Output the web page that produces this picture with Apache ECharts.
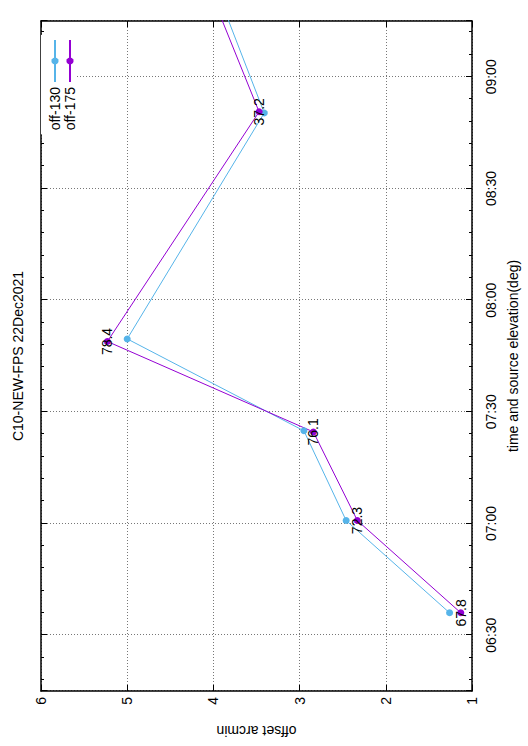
<!DOCTYPE html>
<html>
<head>
<meta charset="utf-8">
<script src="https://cdn.jsdelivr.net/npm/echarts@6/dist/echarts.min.js"></script>
<style>
  html, body { margin: 0; padding: 0; background: #fff; overflow: hidden; }
  /* the chart is laid out landscape and turned a quarter turn to portrait */
  #chart {
    position: absolute; left: 0; top: 0;
    width: 746px; height: 528px;
    transform-origin: 0 0;
    transform: translate(0px, 746px) rotate(-90deg);
  }
</style>
</head>
<body>
<div id="chart"></div>
<script>
// pointing offsets through the night, two focal-plane positions
const times130   = ['06:36:00', '07:00:48', '07:24:54', '07:49:36', '08:50:18', '09:25:00'];
const offset130  = [1.26, 2.46, 2.95, 5.00, 3.41, 3.99];
const times175   = ['06:36:00', '07:00:48', '07:24:36', '07:48:54', '08:50:36', '09:25:00'];
const offset175  = [1.13, 2.33, 2.84, 5.23, 3.47, 4.07];
const elevation175 = [67.8, 72.3, 76.1, 78.4, 37.2, null];

const seriesNames = ['off-130', 'off-175'];
const timeRange = ['06:15', '09:15'];
const offsetRange = [1, 6];

const FONT = 'Liberation Sans, Arial, Helvetica, sans-serif';

function toMinutes(s) {
  const p = s.split(':').map(Number);
  return p[0] * 60 + p[1] + (p[2] || 0) / 60;
}
function pad(n) { return (n < 10 ? '0' : '') + n; }
function clock(v) {
  if (Math.abs(v % 30) > 1e-6) return '';
  const h = Math.floor(v / 60), m = Math.round(v - h * 60);
  return pad(h) + ':' + pad(m);
}

const data130 = times130.map((t, i) => [toMinutes(t), offset130[i]]);
const data175 = times175.map((t, i) => [toMinutes(t), offset175[i], elevation175[i]]);

const tMin = toMinutes(timeRange[0]), tMax = toMinutes(timeRange[1]);

const frame = { show: true, onZero: false, lineStyle: { color: '#000', width: 1.5 } };
const ticks = { show: true, inside: true, length: 6, lineStyle: { color: '#000', width: 1 } };
const grid = { show: true, lineStyle: { color: '#777', width: 1, type: [1, 2] } };
const minor = { show: true, splitNumber: 5, length: 3, lineStyle: { color: '#000', width: 1 } };

const chart = echarts.init(document.getElementById('chart'), null, { renderer: 'svg' });
chart.setOption({
  animation: false,
  backgroundColor: '#fff',
  textStyle: { fontFamily: FONT },
  title: {
    text: 'C10-NEW-FPS 22Dec2021',
    left: 385, top: 6, textAlign: 'center',
    textStyle: { fontFamily: FONT, fontSize: 14, fontWeight: 'normal', color: '#000' }
  },
  legend: {
    data: seriesNames,
    orient: 'vertical',
    right: 35, top: 41,
    align: 'right',
    itemWidth: 42, itemHeight: 9, itemGap: 1,
    padding: [7, 4, 0, 4],
    backgroundColor: '#fff',
    textStyle: { fontFamily: FONT, fontSize: 14, color: '#000' }
  },
  grid: { left: 54, right: 21, top: 41, bottom: 56 },
  xAxis: [
    {
      type: 'value', position: 'bottom', min: tMin, max: tMax, splitNumber: 6,
      axisLine: frame, axisTick: ticks, minorTick: minor, splitLine: grid,
      axisLabel: { formatter: clock, color: '#000', fontSize: 14, fontFamily: FONT, margin: 12 },
      name: 'time and source elevation(deg)', nameLocation: 'middle', nameGap: 34,
      nameTextStyle: { color: '#000', fontSize: 14, fontFamily: FONT }
    },
    {
      type: 'value', position: 'top', min: tMin, max: tMax, splitNumber: 6,
      axisLine: frame, axisTick: ticks, minorTick: minor,
      splitLine: { show: false }, axisLabel: { show: false }
    }
  ],
  yAxis: [
    {
      type: 'value', position: 'left', min: offsetRange[0], max: offsetRange[1], interval: 1,
      axisLine: frame, axisTick: ticks, splitLine: grid,
      axisLabel: { color: '#000', fontSize: 14, fontFamily: FONT, margin: 6 },
      name: 'offset arcmin', nameLocation: 'middle', nameGap: 33,
      nameTextStyle: { color: '#000', fontSize: 14, fontFamily: FONT }
    },
    {
      type: 'value', position: 'right', min: offsetRange[0], max: offsetRange[1], interval: 1,
      axisLine: frame, axisTick: ticks,
      splitLine: { show: false }, axisLabel: { show: false }
    }
  ],
  series: [
    {
      name: seriesNames[0], type: 'line', xAxisIndex: 0, yAxisIndex: 0,
      data: data130, clip: true,
      symbol: 'circle', symbolSize: 7, showAllSymbol: true,
      itemStyle: { color: '#56b4e9' },
      lineStyle: { color: '#56b4e9', width: 1 }
    },
    {
      name: seriesNames[1], type: 'line', xAxisIndex: 0, yAxisIndex: 0,
      data: data175, clip: true,
      symbol: 'circle', symbolSize: 7, showAllSymbol: true,
      itemStyle: { color: '#9400d3' },
      lineStyle: { color: '#9400d3', width: 1 },
      label: {
        show: true, position: 'inside', color: '#000', fontSize: 14, fontFamily: FONT,
        formatter: p => (p.value[2] == null ? '' : p.value[2].toFixed(1))
      }
    }
  ]
});
</script>
</body>
</html>
